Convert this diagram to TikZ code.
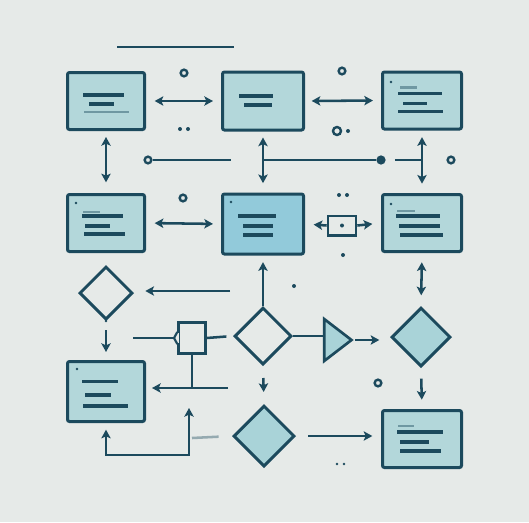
\documentclass[tikz,border=0pt]{standalone}
\usetikzlibrary{shapes.geometric,arrows.meta}
\definecolor{dk}{HTML}{1C4A5D}
\definecolor{boxfill}{HTML}{B3D7DA}
\definecolor{boxfillb}{HTML}{92CADA}
\definecolor{bg}{HTML}{E6EAE8}
\definecolor{dfill}{HTML}{A9D3D8}
\tikzset{
  x=0.75pt, y=-0.75pt,
  box/.style={draw=dk, fill=boxfill, line width=2.25pt, rounded corners=1.5pt, inner sep=0pt,
    minimum width=57.75pt, minimum height=42.75pt},
  boxw/.style={box, minimum width=60.75pt, minimum height=43.5pt},
  dia/.style={diamond, aspect=1, draw=dk, line width=2.25pt, inner sep=0pt},
  txt/.style={draw=dk, line width=2.4pt},
  ftxt/.style={draw=dk!45!boxfill, line width=2pt},
  con/.style={draw=dk, line width=1.9pt},
  arr/.style={con, -{Stealth[length=6.5pt,width=7pt,inset=1.5pt]}},
  darr/.style={con, {Stealth[length=6.5pt,width=7pt,inset=1.5pt]}-{Stealth[length=6.5pt,width=7pt,inset=1.5pt]}},
  ring/.style={circle, draw=dk, line width=1.8pt, minimum size=5pt, inner sep=0pt},
  dotn/.style={circle, fill=dk, minimum size=3pt, inner sep=0pt},
  smdot/.style={circle, fill=dk, minimum size=2pt, inner sep=0pt},
}
\newcommand\tln[4]{\draw[txt] ([shift={(#2,#4)}]#1.center) -- ([shift={(#3,#4)}]#1.center);}
\newcommand\ftln[4]{\draw[ftxt] ([shift={(#2,#4)}]#1.center) -- ([shift={(#3,#4)}]#1.center);}
\begin{document}
\begin{tikzpicture}
\fill[bg] (0,0) rectangle (529,522);
\useasboundingbox (0,0) rectangle (529,522);

% title line
\coordinate (t1) at (117,47);
\coordinate (t2) at (234,47);
\draw[con, line width=1.6pt] (t1) -- (t2);

% boxes
\node[box]  (A1) at (106,101) {};
\node[boxw] (B1) at (263,101) {};
\node[box, minimum width=59.25pt] (C1) at (422,100.5) {};
\node[box]  (A2) at (106,223) {};
\node[boxw, fill=boxfillb, minimum height=45pt] (B2) at (263,224) {};
\node[box, minimum width=59.25pt] (C2) at (422,223) {};
\node[box, minimum height=45pt] (A3) at (106,391.5) {};
\node[box, minimum width=59.25pt] (C4) at (422,439) {};

% text lines in boxes
\tln{A1}{-23}{18}{-6} \tln{A1}{-17}{8}{3} \ftln{A1}{-22}{23}{11}
\tln{B1}{-24}{10}{-5} \tln{B1}{-19}{9}{4}
\ftln{C1}{-22}{-5}{-13} \tln{C1}{-24}{20}{-7} \tln{C1}{-19}{5}{3} \tln{C1}{-24}{21}{11}
\ftln{A2}{-23}{-6}{-11} \tln{A2}{-24}{17}{-7} \tln{A2}{-21}{4}{3} \tln{A2}{-22}{19}{11}
\tln{B2}{-25}{13}{-8} \tln{B2}{-20}{10}{2} \tln{B2}{-20}{10}{11}
\ftln{C2}{-25}{-7}{-12} \tln{C2}{-26}{18}{-7} \tln{C2}{-23}{18}{3} \tln{C2}{-22}{21}{12}
\tln{A3}{-24}{12}{-10} \tln{A3}{-21}{5}{3.5} \tln{A3}{-23}{22}{14.5}
\ftln{C4}{-24}{-8}{-13} \tln{C4}{-25}{21}{-7} \tln{C4}{-22}{7}{3} \tln{C4}{-22}{19}{12}

% corner specks
\node[smdot] (s1) at (391,82) {};
\node[smdot] (s2) at (76,203) {};
\node[smdot] (s3) at (231,202) {};
\node[smdot] (s4) at (391,204) {};
\node[smdot] (s5) at (77,369) {};

% diamonds and other shapes
\node[dia, minimum width=39.75pt, minimum height=39.75pt] (L) at (106,293) {};
\node[dia, minimum width=42.75pt, minimum height=42.75pt] (B3) at (263,336) {};
\node[dia, fill=dfill, minimum width=44.25pt, minimum height=44.25pt] (C3) at (421,337) {};
\node[dia, fill=dfill, minimum width=45.75pt, minimum height=45.75pt] (B4) at (264,436) {};
\node[isosceles triangle, isosceles triangle stretches, draw=dk, fill=dfill, line width=2pt,
      inner sep=0pt, minimum width=31.5pt, minimum height=20.5pt, anchor=apex] (T) at (355,340) {};
\node[rectangle, draw=dk, line width=2pt, minimum width=20pt, minimum height=23pt, inner sep=0pt] (Q) at (192,338) {};
\fill[bg] ([shift={(-1.5pt,-4pt)}]Q.west) rectangle ([shift={(1.5pt,4pt)}]Q.west);
\draw[dk, line width=1.6pt, line join=round] ([yshift=4.5pt]Q.west) -- ([xshift=-2.5pt]Q.west) -- ([yshift=-4.5pt]Q.west);
\node[rectangle, draw=dk, line width=2pt, minimum width=21pt, minimum height=14.5pt, inner sep=0pt] (S) at (342,225.5) {};
\node[dotn] (Sd) at (342,225.5) {};

% rings and dots
\node[ring] (r1) at (184,73) {};
\node[ring] (r2) at (342,71) {};
\node[ring] (r3) at (183,198) {};
\node[ring] (r4) at (451,160) {};
\node[ring] (r5) at (378,383) {};
\node[ring, minimum size=6pt] (r6) at (337,131) {};
\node[ring, minimum size=5pt] (o1) at (148,160) {};
\node[ring, fill=dk, minimum size=5pt] (o2) at (381,160) {};
\node[dotn] (d1) at (180,129) {};
\node[dotn] (d2) at (188,129) {};
\node[dotn] (d3) at (348,131) {};
\node[dotn] (d4) at (339,195) {};
\node[dotn] (d5) at (347,195) {};
\node[dotn] (d6) at (343,255) {};
\node[dotn] (d7) at (294,286) {};
\node[smdot] (d8) at (337,464) {};
\node[smdot] (d9) at (344,464) {};
\node[smdot] (d10) at (106,321) {};

% row 1 connectors
\draw[darr, shorten <=6.5pt, shorten >=6pt] (A1.east) -- (B1.west);
\draw[darr, shorten <=5pt, shorten >=6pt] (B1.east) -- (C1.west);
\draw[darr, shorten <=4.5pt, shorten >=8pt] (A1.south) -- (A2.north);
\draw[darr, shorten <=4.5pt, shorten >=7pt] (B1.south) -- (B2.north);
\draw[darr, shorten <=5pt, shorten >=7pt] (C1.south) -- (C2.north);

% horizontal lines at y=160
\coordinate (h1) at (231,160);
\coordinate (h2) at (263,160);
\coordinate (h3) at (421,160);
\draw[con] (o1) -- (h1);
\draw[con] (h2) -- (o2);
\draw[con, shorten <=7pt] (o2) -- (h3);

% row 2 connectors
\draw[darr, shorten <=6.5pt, shorten >=6pt] (A2.east) -- (B2.west);
\draw[arr, shorten >=6.5pt] (S.west) -- (B2.east);
\draw[arr, shorten >=6.5pt] (S.east) -- (C2.west);
\draw[darr, shorten <=7pt, shorten >=8pt] (C2.south) -- (C3.north);
\draw[arr, shorten >=5pt] (B3.north) -- (B2.south);
\coordinate (lf) at (230,291);
\draw[arr, shorten >=8.5pt] (lf) -- (L.east |- lf);

% row 3 connectors
\draw[arr, shorten <=7pt, shorten >=6pt] (L.south) -- (A3.north);
\coordinate (q1) at (133,338);
\draw[con] (q1) -- ([xshift=-2.5pt]Q.west);
\draw[con, shorten >=5pt] (Q.east) -- (B3.west);
\coordinate (q2) at (228,388);
\draw[con] (Q.south) -- (Q.south |- q2);
\draw[arr, shorten >=4.5pt] (q2) -- (A3.east |- q2);
\draw[con] (B3.east) -- (T.west |- B3.east);
\draw[arr, shorten >=8pt] (T.apex) -- (C3.west |- T.apex);
\draw[arr, shorten <=8pt, shorten >=7pt] (C3.south) -- (C4.north);
\draw[arr, shorten <=9pt, shorten >=9pt] (B3.south) -- (B4.north);

% bottom loop
\coordinate (bl) at (189,455);
\coordinate (lp) at (189,408);
\draw[darr, shorten <=5pt] (A3.south) |- (bl) -- (lp);
\coordinate (f1) at (192,438);
\draw[con, draw=dk!40!bg, shorten >=10pt] (f1) -- (B4.west);
\draw[arr, shorten <=9pt, shorten >=6.5pt] (B4.east) -- (C4.west |- B4.east);
\end{tikzpicture}
\end{document}
